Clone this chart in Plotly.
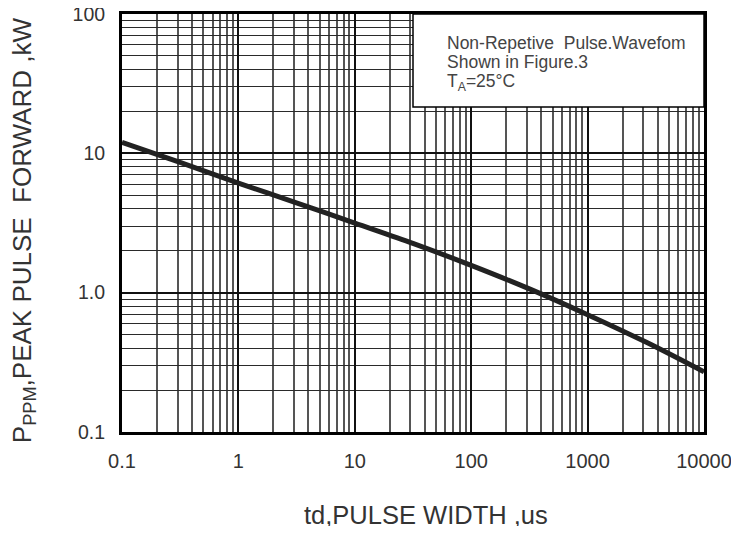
import plotly.graph_objects as go

# Data (log-log curve)
pulse_width_us = [0.1, 0.32, 1, 3.2, 10, 32, 100, 320, 1000, 3200, 10000]
peak_power_kw = [12.0, 8.57, 6.12, 4.40, 3.16, 2.25, 1.57, 1.06, 0.695, 0.44, 0.27]

x_tickvals = [0.1, 1, 10, 100, 1000, 10000]
x_ticktext = ["0.1", "1", "10", "100", "1000", "10000"]
y_tickvals = [0.1, 1, 10, 100]
y_ticktext = ["0.1", "1.0", "10", "100"]

note_lines = ["Non-Repetive\u00a0 Pulse.Wavefom", "Shown in Figure.3", "T<sub>A</sub>=25°C"]
x_title = "td,PULSE WIDTH ,us"
y_title = "P<sub>PPM</sub>,PEAK PULSE\u00a0 FORWARD ,kW"

font_family = "Liberation Sans, Arial, sans-serif"
text_color = "#333333"

fig = go.Figure()
fig.add_trace(go.Scatter(
    x=pulse_width_us, y=peak_power_kw, mode="lines",
    line=dict(color="#222222", width=5, shape="spline", smoothing=1.0),
    showlegend=False, hoverinfo="skip",
))

# The page body has an 8px default margin, so the figure is sized to fit the window
fig.update_layout(
    width=723, height=518,
    margin=dict(l=114, r=27, t=6, b=94),
    paper_bgcolor="white", plot_bgcolor="white",
    font=dict(family=font_family, color=text_color),
    xaxis=dict(
        type="log", range=[-1, 4], automargin=False, ticklabeloverflow="allow",
        tickvals=x_tickvals, ticktext=x_ticktext,
        tickfont=dict(size=20, color=text_color),
        ticks="", ticklabelstandoff=9,
        showgrid=True, gridcolor="#111111", gridwidth=1.6,
        minor=dict(dtick="D1", showgrid=True, gridcolor="#555555", gridwidth=1.5, ticks=""),
        showline=True, linecolor="black", linewidth=3, mirror=True,
        zeroline=False,
    ),
    yaxis=dict(
        type="log", range=[-1, 2], automargin=False, ticklabeloverflow="allow",
        tickvals=y_tickvals, ticktext=y_ticktext,
        tickfont=dict(size=19.5, color=text_color),
        ticks="", ticklabelstandoff=10,
        showgrid=True, gridcolor="#111111", gridwidth=1.6,
        minor=dict(dtick="D1", showgrid=True, gridcolor="#2a2a2a", gridwidth=1.4, ticks=""),
        showline=True, linecolor="black", linewidth=3, mirror=True,
        zeroline=False,
    ),
)

# White note box in the upper right corner
fig.add_shape(type="rect", xref="paper", yref="paper",
              x0=0.5, x1=1.0, y0=0.7775, y1=1.0,
              fillcolor="white", line=dict(color="black", width=1.5), layer="above")

note_y = [0.9306, 0.8852, 0.8373]
for txt, yy in zip(note_lines, note_y):
    fig.add_annotation(text=txt, xref="paper", yref="paper", x=0.555, y=yy,
                       xanchor="left", yanchor="middle", showarrow=False,
                       font=dict(size=17.5, color="#444444", family=font_family))

fig.add_annotation(text=x_title, xref="paper", yref="paper", x=0.522, y=-0.1985,
                   xanchor="center", yanchor="middle", showarrow=False,
                   font=dict(size=25.5, color=text_color, family=font_family))
fig.add_annotation(text=y_title, xref="paper", yref="paper", x=-0.1700, y=0.483,
                   xanchor="center", yanchor="middle", showarrow=False, textangle=-90,
                   font=dict(size=26, color=text_color, family=font_family))

fig.write_html("out.html")
